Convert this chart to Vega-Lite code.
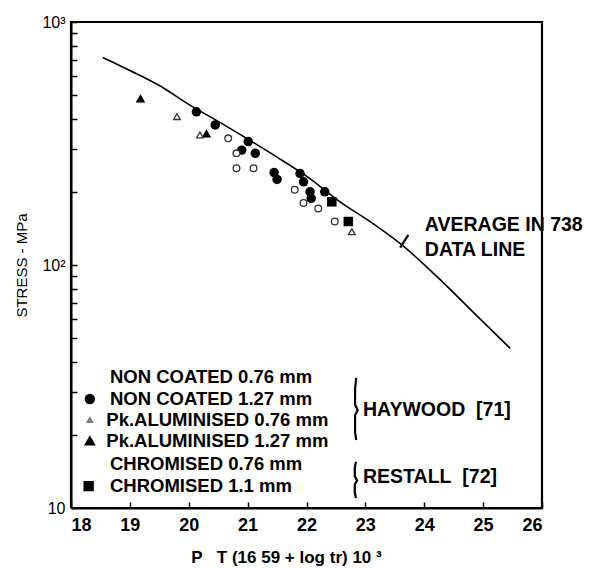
{
  "$schema": "https://vega.github.io/schema/vega-lite/v6.json",
  "width": 471,
  "height": 486,
  "autosize": {"type": "none"},
  "padding": {"left": 71, "top": 22, "right": 56, "bottom": 60},
  "background": "white",
  "config": {
    "view": {"stroke": null},
    "font": "Liberation Sans",
    "axis": {"domainColor": "black", "domainWidth": 2, "tickColor": "black", "tickWidth": 1.5, "grid": false, "labelColor": "black", "titleColor": "black"}
  },
  "datasets": {
    "curve": [
      {"x": 18.54, "y": 715}, {"x": 19.0, "y": 632}, {"x": 19.5, "y": 548}, {"x": 20.0, "y": 458},
      {"x": 20.5, "y": 390}, {"x": 21.0, "y": 330}, {"x": 21.5, "y": 278}, {"x": 22.0, "y": 232},
      {"x": 22.57, "y": 182}, {"x": 23.13, "y": 148}, {"x": 23.62, "y": 121}, {"x": 24.27, "y": 87},
      {"x": 24.83, "y": 64}, {"x": 25.46, "y": 45.4}
    ],
    "pts": [
      {"x": 20.13, "y": 427, "shape": "circle", "filled": "yes"},
      {"x": 20.45, "y": 377, "shape": "circle", "filled": "yes"},
      {"x": 21.01, "y": 322, "shape": "circle", "filled": "yes"},
      {"x": 20.90, "y": 297, "shape": "circle", "filled": "yes"},
      {"x": 21.13, "y": 288, "shape": "circle", "filled": "yes"},
      {"x": 21.45, "y": 240, "shape": "circle", "filled": "yes"},
      {"x": 21.50, "y": 225, "shape": "circle", "filled": "yes"},
      {"x": 21.89, "y": 238, "shape": "circle", "filled": "yes"},
      {"x": 21.95, "y": 220, "shape": "circle", "filled": "yes"},
      {"x": 22.06, "y": 200, "shape": "circle", "filled": "yes"},
      {"x": 22.08, "y": 188, "shape": "circle", "filled": "yes"},
      {"x": 22.31, "y": 200, "shape": "circle", "filled": "yes"},
      {"x": 22.43, "y": 182, "shape": "square", "filled": "yes"},
      {"x": 22.71, "y": 151, "shape": "square", "filled": "yes"},
      {"x": 19.18, "y": 485, "shape": "triangle-up", "filled": "yes"},
      {"x": 20.30, "y": 348, "shape": "triangle-up", "filled": "yes"},
      {"x": 20.67, "y": 332, "shape": "circle", "filled": "no"},
      {"x": 20.81, "y": 288, "shape": "circle", "filled": "no"},
      {"x": 20.81, "y": 250, "shape": "circle", "filled": "no"},
      {"x": 21.10, "y": 250, "shape": "circle", "filled": "no"},
      {"x": 21.80, "y": 204, "shape": "circle", "filled": "no"},
      {"x": 21.95, "y": 180, "shape": "circle", "filled": "no"},
      {"x": 22.20, "y": 171, "shape": "circle", "filled": "no"},
      {"x": 22.48, "y": 151, "shape": "circle", "filled": "no"},
      {"x": 19.80, "y": 408, "shape": "triangle-up", "filled": "no"},
      {"x": 22.77, "y": 137, "shape": "triangle-up", "filled": "no"},
      {"x": 20.19, "y": 343, "shape": "triangle-up", "filled": "no"}
    ],
    "legendSym": [
      {"x": 18.32, "y": 28.1, "shape": "circle", "filled": "yes"},
      {"x": 18.32, "y": 23.0, "shape": "triangle-up", "filled": "no"},
      {"x": 18.32, "y": 18.9, "shape": "triangle-up", "filled": "yes"},
      {"x": 18.30, "y": 12.3, "shape": "square", "filled": "yes"}
    ],
    "labels": [
      {"x": 18.662, "y": 34.6, "text": "NON COATED 0.76 mm", "kind": "legend"},
      {"x": 18.662, "y": 28.1, "text": "NON COATED 1.27 mm", "kind": "legend"},
      {"x": 18.60, "y": 23.0, "text": "Pk.ALUMINISED 0.76 mm", "kind": "legend"},
      {"x": 18.60, "y": 18.9, "text": "Pk.ALUMINISED 1.27 mm", "kind": "legend"},
      {"x": 18.662, "y": 15.2, "text": "CHROMISED 0.76 mm", "kind": "legend"},
      {"x": 18.662, "y": 12.3, "text": "CHROMISED 1.1 mm", "kind": "legend"},
      {"x": 22.96, "y": 25.3, "text": "HAYWOOD\u00a0\u00a0[71]", "kind": "source"},
      {"x": 22.96, "y": 13.4, "text": "RESTALL\u00a0\u00a0[72]", "kind": "source"},
      {"x": 24.01, "y": 146, "text": "AVERAGE IN 738", "kind": "curve"},
      {"x": 24.01, "y": 115, "text": "DATA LINE", "kind": "curve"}
    ],
    "strokes": [
      {"grp": "frame", "o": 1, "x": 18, "y": 10},
      {"grp": "frame", "o": 2, "x": 26, "y": 10},
      {"grp": "frame", "o": 3, "x": 26, "y": 1000},
      {"grp": "frame", "o": 4, "x": 18, "y": 1000},
      {"grp": "frame", "o": 5, "x": 18, "y": 10},
      {"grp": "haywood", "o": 1, "x": 22.845, "y": 34.3},
      {"grp": "haywood", "o": 2, "x": 22.825, "y": 31.0},
      {"grp": "haywood", "o": 3, "x": 22.825, "y": 26.6},
      {"grp": "haywood", "o": 4, "x": 22.87, "y": 25.3},
      {"grp": "haywood", "o": 5, "x": 22.825, "y": 24.1},
      {"grp": "haywood", "o": 6, "x": 22.825, "y": 20.5},
      {"grp": "haywood", "o": 7, "x": 22.845, "y": 19.05},
      {"grp": "restall", "o": 1, "x": 22.84, "y": 15.5},
      {"grp": "restall", "o": 2, "x": 22.82, "y": 14.6},
      {"grp": "restall", "o": 3, "x": 22.82, "y": 13.5},
      {"grp": "restall", "o": 4, "x": 22.86, "y": 13.0},
      {"grp": "restall", "o": 5, "x": 22.82, "y": 12.5},
      {"grp": "restall", "o": 6, "x": 22.82, "y": 11.6},
      {"grp": "restall", "o": 7, "x": 22.84, "y": 11.0},
      {"grp": "leader", "o": 1, "x": 23.59, "y": 118},
      {"grp": "leader", "o": 2, "x": 23.73, "y": 133}
    ]
  },
  "encoding": {
    "x": {"field": "x", "type": "quantitative",
          "scale": {"domain": [18, 26], "nice": false, "zero": false},
          "axis": {"orient": "bottom", "values": [18, 19, 20, 21, 22, 23, 24, 25, 26], "tickSize": -6, "format": "d",
                   "domain": true, "domainColor": "black", "domainWidth": 2, "ticks": true, "tickColor": "black", "tickWidth": 1.5,
                   "labelFontSize": 18, "labelFontWeight": "bold", "labelPadding": 14, "labelFlush": true, "labelColor": "black",
                   "title": "P\u00a0\u00a0\u00a0T (16 59 + log tr) 10 ³", "titleFontSize": 17, "titleFontWeight": "bold", "titleColor": "black",
                   "titleX": 215, "titleY": 54, "titleBaseline": "alphabetic", "titleAnchor": "middle", "titleAlign": "center"}},
    "y": {"field": "y", "type": "quantitative",
          "scale": {"type": "log", "domain": [10, 1000], "nice": false},
          "axis": {"orient": "left", "values": [10, 20, 30, 40, 50, 60, 70, 80, 90, 100, 200, 300, 400, 500, 600, 700, 800, 900, 1000],
                   "tickSize": -6, "domain": true, "domainColor": "black", "domainWidth": 2, "ticks": true, "tickColor": "black", "tickWidth": 1.5,
                   "labelFontSize": 16, "labelPadding": 12, "labelColor": "black",
                   "labelExpr": "datum.value == 1000 ? '10³' : datum.value == 100 ? '10²' : datum.value == 10 ? '10' : ''",
                   "labelFlush": false, "labelOverlap": false,
                   "title": "STRESS - MPa", "titleFontSize": 15, "titleFontWeight": "normal", "titleColor": "black", "titlePadding": 12}}
  },
  "layer": [
    {
      "data": {"name": "curve"},
      "mark": {"type": "line", "color": "black", "strokeWidth": 1.6, "interpolate": "monotone"}
    },
    {
      "data": {"name": "pts"},
      "transform": [{"filter": "datum.filled == 'yes'"}],
      "mark": {"type": "point", "filled": true, "color": "black", "size": 90, "opacity": 1},
      "encoding": {
        "shape": {"field": "shape", "type": "nominal", "scale": null}
      }
    },
    {
      "data": {"name": "pts"},
      "transform": [{"filter": "datum.filled == 'no'"}],
      "mark": {"type": "point", "filled": false, "stroke": "#333", "fill": "white", "strokeWidth": 1.3, "size": 45, "opacity": 1},
      "encoding": {
        "shape": {"field": "shape", "type": "nominal", "scale": null}
      }
    },
    {
      "data": {"name": "legendSym"},
      "mark": {"type": "point", "filled": true, "color": "black", "size": 70, "opacity": 1},
      "encoding": {
        "shape": {"field": "shape", "type": "nominal", "scale": null},
        "fill": {"condition": {"test": "datum.filled == 'no'", "value": "white"}, "value": "black"},
        "stroke": {"condition": {"test": "datum.filled == 'no'", "value": "#777"}, "value": "black"},
        "size": {"condition": {"test": "datum.filled == 'no'", "value": 18}, "value": 70}
      }
    },
    {
      "data": {"name": "labels"},
      "transform": [{"filter": "datum.kind == 'legend'"}],
      "mark": {"type": "text", "align": "left", "baseline": "middle", "fontSize": 18.5, "fontWeight": "bold", "font": "Liberation Sans", "color": "black"},
      "encoding": {
        "text": {"field": "text", "type": "nominal"}
      }
    },
    {
      "data": {"name": "labels"},
      "transform": [{"filter": "datum.kind != 'legend'"}],
      "mark": {"type": "text", "align": "left", "baseline": "middle", "fontSize": 19.5, "fontWeight": "bold", "font": "Liberation Sans", "color": "black"},
      "encoding": {
        "text": {"field": "text", "type": "nominal"}
      }
    },
    {
      "data": {"name": "strokes"},
      "mark": {"type": "line", "color": "black", "strokeWidth": 2.2},
      "encoding": {
        "detail": {"field": "grp", "type": "nominal"},
        "order": {"field": "o", "type": "quantitative"}
      }
    }
  ]
}
